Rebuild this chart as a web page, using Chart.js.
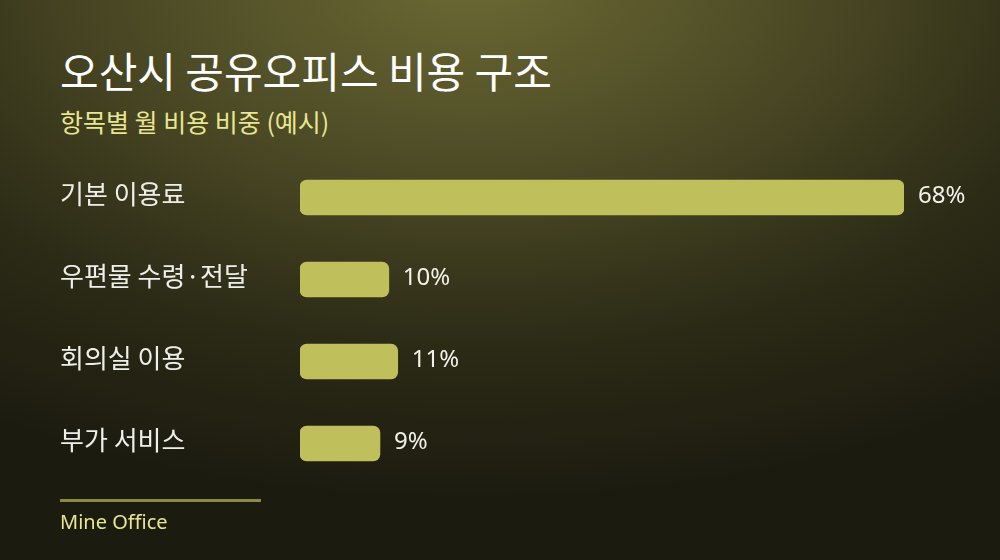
<!DOCTYPE html>
<html><head><meta charset="utf-8">
<script src="https://cdn.jsdelivr.net/npm/chart.js@4"></script>
<style>
html,body{margin:0;padding:0;}
body{width:1000px;height:560px;overflow:hidden;position:relative;
 background: radial-gradient(ellipse 900px 520px at 470px -20px, #6b6933 0%, #4e4c26 35%, #2c2b16 70%, #1c1b10 100%);
 font-family:"Noto Sans CJK KR","Noto Sans",sans-serif;}
#title{position:absolute;left:60px;top:45px;font-size:42px;font-weight:400;color:#ffffff;white-space:nowrap;line-height:1.2;}
#sub{position:absolute;left:60px;top:106px;font-size:25px;color:#e8e690;white-space:nowrap;line-height:1.2;}
#line{position:absolute;left:60px;top:499px;width:201px;height:3px;background:#8c8946;}
#foot{position:absolute;left:60px;top:510px;font-family:"Noto Sans",sans-serif;font-size:20px;color:#e8e690;line-height:1.2;}
#wrap{position:absolute;left:0;top:0;width:1000px;height:560px;}
</style></head>
<body>
<div id="title">오산시 공유오피스 비용 구조</div>
<div id="sub">항목별 월 비용 비중 (예시)</div>
<div id="wrap"><canvas id="c" width="1000" height="560"></canvas></div>
<div id="line"></div>
<div id="foot">Mine Office</div>
<script>
const categories = ["기본 이용료", "우편물 수령·전달", "회의실 이용", "부가 서비스"];
const shares = [68, 10, 11, 9];
const valueLabels = ["68%", "10%", "11%", "9%"];

const valueLabelPlugin = {
  id: 'valueLabels',
  afterDatasetsDraw(chart) {
    const ctx = chart.ctx;
    const meta = chart.getDatasetMeta(0);
    ctx.save();
    ctx.fillStyle = '#f2f2ea';
    ctx.font = '24px "Noto Sans", sans-serif';
    ctx.textAlign = 'left';
    ctx.textBaseline = 'middle';
    meta.data.forEach((bar, i) => {
      ctx.fillText(valueLabels[i], bar.x + 14, bar.y - 1);
    });
    ctx.restore();
  }
};

new Chart(document.getElementById('c'), {
  type: 'bar',
  data: {
    labels: categories,
    datasets: [{
      data: shares,
      backgroundColor: '#bfbf5b',
      borderRadius: 7,
      borderSkipped: false,
      barThickness: 35
    }]
  },
  options: {
    indexAxis: 'y',
    responsive: false,
    animation: false,
    events: [],
    layout: { padding: { left: 60, right: 96, top: 156.5, bottom: 75.5 } },
    plugins: { legend: { display: false }, tooltip: { enabled: false } },
    scales: {
      x: { display: false, min: 0, max: 68 },
      y: {
        grid: { display: false },
        border: { display: false },
        ticks: {
          color: '#eeeeea',
          font: { family: '"Noto Sans CJK KR", sans-serif', size: 26 },
          crossAlign: 'far',
          padding: 0,
          labelOffset: -3
        },
        afterFit(scale) { scale.width = 240; }
      }
    }
  },
  plugins: [valueLabelPlugin]
});
</script>
</body></html>
